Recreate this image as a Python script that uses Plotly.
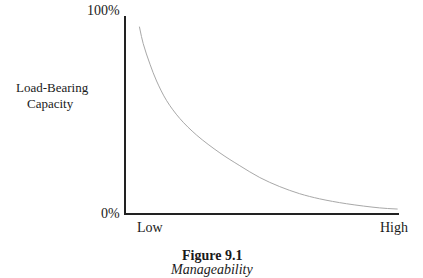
import plotly.graph_objects as go

# Data (Manageability 0..100 vs Load-Bearing Capacity %)
manageability = [4.9, 6.3, 8.8, 11.2, 14.9, 19.7, 25.9, 34.4, 41.7, 49.0, 56.3, 63.6, 70.9, 80.8, 92.9, 99.5]
capacity = [94.6, 86.0, 75.5, 67.0, 57.0, 48.0, 39.5, 30.5, 24.0, 18.0, 13.4, 9.8, 7.2, 4.7, 2.6, 2.0]

x_labels = ["Low", "High"]
x_label_pos = [8.8, 98.0]
y_labels = ["0%", "100%"]
y_label_pos = [0, 100]

y_title_lines = ["Load-Bearing", "Capacity"]
caption_title = "<b>Figure 9.1</b>"
caption_sub = "<i>Manageability</i>"

FONT = "Liberation Serif, Times New Roman, serif"
TXT = "#1a1a1a"

fig = go.Figure()
fig.add_trace(go.Scatter(
    x=manageability, y=capacity, mode="lines",
    line=dict(color="#a8a8a8", width=1, shape="spline", smoothing=1.0),
    hoverinfo="skip", showlegend=False,
))

annotations = []
for lbl, xv in zip(x_labels, x_label_pos):
    annotations.append(dict(x=xv, y=0, xref="x", yref="y", text=lbl, showarrow=False,
                            yanchor="top", yshift=-5, font=dict(family=FONT, size=14, color=TXT)))
for lbl, yv in zip(y_labels, y_label_pos):
    annotations.append(dict(x=0, y=yv, xref="paper", yref="y", text=lbl, showarrow=False,
                            xanchor="right", xshift=-4, yshift=(6 if yv == 100 else 0),
                            font=dict(family=FONT, size=14, color=TXT)))
for line, (xp, yp) in zip(y_title_lines, [(-0.268, 0.635), (-0.278, 0.558)]):
    annotations.append(dict(x=xp, y=yp, xref="paper", yref="paper", text=line, showarrow=False,
                            xanchor="center", yanchor="middle",
                            font=dict(family=FONT, size=13, color=TXT)))
annotations.append(dict(x=0.314, y=-0.218, xref="paper", yref="paper", text=caption_title,
                        showarrow=False, xanchor="center", yanchor="middle",
                        font=dict(family=FONT, size=14, color=TXT)))
annotations.append(dict(x=0.314, y=-0.289, xref="paper", yref="paper", text=caption_sub,
                        showarrow=False, xanchor="center", yanchor="middle",
                        font=dict(family=FONT, size=14, color=TXT)))

fig.update_layout(
    width=423, height=278,
    margin=dict(l=126, r=24, t=16, b=65),
    paper_bgcolor="white", plot_bgcolor="white",
    xaxis=dict(range=[0, 100], showline=True, linecolor="#222", linewidth=1.5,
               showgrid=False, zeroline=False, showticklabels=False, ticks=""),
    yaxis=dict(range=[0, 100], showline=True, linecolor="#222", linewidth=1.5,
               showgrid=False, zeroline=False, showticklabels=False, ticks=""),
    annotations=annotations,
    showlegend=False,
)

fig.write_html("out.html")
